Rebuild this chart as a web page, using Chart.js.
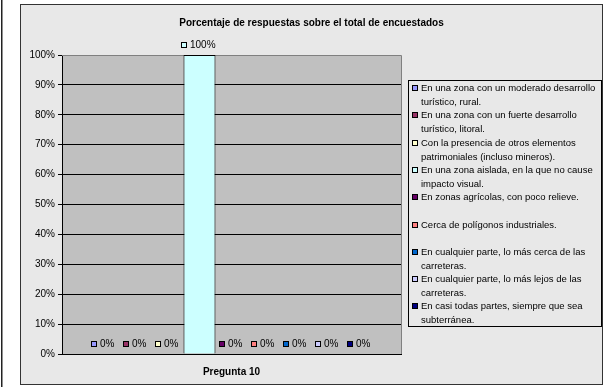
<!DOCTYPE html>
<html>
<head>
<meta charset="utf-8">
<script src="https://cdn.jsdelivr.net/npm/chart.js@4.4.1/dist/chart.umd.min.js"></script>
<style>
  html, body { margin: 0; padding: 0; background: #fff; }
  canvas { display: block; }
</style>
</head>
<body>
<canvas id="chart" width="605" height="387"></canvas>
<script>
// data
const chartTitle = 'Porcentaje de respuestas sobre el total de encuestados';
const categories = ['Pregunta 10'];
const seriesNames = [
    'En una zona con un moderado desarrollo turístico, rural.',
    'En una zona con un fuerte desarrollo turístico, litoral.',
    'Con la presencia de otros elementos patrimoniales (incluso mineros).',
    'En una zona aislada, en la que no cause impacto visual.',
    'En zonas agrícolas, con poco relieve.',
    'Cerca de polígonos industriales.',
    'En cualquier parte, lo más cerca de las carreteras.',
    'En cualquier parte, lo más lejos de las carreteras.',
    'En casi todas partes, siempre que sea subterránea.'
];
const seriesValues = [0, 0, 0, 100, 0, 0, 0, 0, 0];
const yMin = 0, yMax = 100, yStep = 10;

const seriesColors = ['#9999FF', '#993366', '#FFFFCC', '#CCFFFF', '#660066',
                      '#FF8080', '#0066CC', '#CCCCFF', '#000080'];
const FONT = 'Liberation Sans, Arial, sans-serif';

// outer frame, plot background, title
const framePlugin = {
    id: 'frame',
    beforeDraw(chart) {
        const ctx = chart.ctx, a = chart.chartArea;
        ctx.save();
        ctx.fillStyle = '#fff';
        ctx.fillRect(0, 0, chart.width, chart.height);
        ctx.fillStyle = '#222';
        ctx.fillRect(1, 0, 1.5, chart.height);
        ctx.fillStyle = '#e8e8e8';
        ctx.fillRect(20, 5, 583, 379);
        ctx.strokeStyle = '#333';
        ctx.lineWidth = 1;
        ctx.strokeRect(20.5, 4.5, 582, 380);
        ctx.fillStyle = '#c0c0c0';
        ctx.fillRect(a.left, a.top, a.right - a.left, a.bottom - a.top);
        ctx.fillStyle = '#000';
        ctx.font = 'bold 10px ' + FONT;
        ctx.textAlign = 'center';
        ctx.textBaseline = 'middle';
        ctx.fillText(chartTitle, 311.5, 23);
        ctx.restore();
    },
    beforeDatasetsDraw(chart) {
        const ctx = chart.ctx, a = chart.chartArea;
        ctx.save();
        ctx.strokeStyle = '#808080';
        ctx.lineWidth = 1;
        ctx.beginPath();
        ctx.moveTo(a.left, a.top + 0.5);
        ctx.lineTo(a.right + 0.5, a.top + 0.5);
        ctx.lineTo(a.right + 0.5, a.bottom);
        ctx.stroke();
        ctx.restore();
    }
};

// "■ 0%" labels above every bar
const valueLabelPlugin = {
    id: 'valueLabels',
    afterDatasetsDraw(chart) {
        const ctx = chart.ctx;
        ctx.save();
        ctx.font = '10px ' + FONT;
        ctx.textBaseline = 'middle';
        ctx.textAlign = 'left';
        chart.data.datasets.forEach((ds, i) => {
            const bar = chart.getDatasetMeta(i).data[0];
            const txt = ds.data[0] + '%';
            const tw = ctx.measureText(txt).width;
            const x0 = Math.round(bar.x - (6 + 3 + tw) / 2) - 1;
            const yc = Math.round(bar.y - 10);
            ctx.fillStyle = ds.backgroundColor;
            ctx.fillRect(x0, yc - 3, 6, 6);
            ctx.strokeStyle = '#000';
            ctx.lineWidth = 1;
            ctx.strokeRect(x0 + 0.5, yc - 2.5, 5, 5);
            ctx.fillStyle = '#000';
            ctx.fillText(txt, x0 + 9, yc);
        });
        ctx.restore();
    }
};

// boxed legend on the right, wrapped text
const legendPlugin = {
    id: 'boxLegend',
    afterDraw(chart) {
        const ctx = chart.ctx;
        const bx = 408, by = 80, bw = 193, bh = 246;
        ctx.save();
        ctx.fillStyle = '#e8e8e8';
        ctx.fillRect(bx, by, bw, bh);
        ctx.strokeStyle = '#000';
        ctx.lineWidth = 1;
        ctx.strokeRect(bx + 0.5, by + 0.5, bw, bh);
        ctx.font = '9.5px ' + FONT;
        ctx.textBaseline = 'middle';
        ctx.textAlign = 'left';
        const maxW = 180;
        chart.data.datasets.forEach((ds, i) => {
            const words = ds.label.split(' ');
            const lines = [];
            let cur = '';
            words.forEach(w => {
                const t = cur ? cur + ' ' + w : w;
                if (ctx.measureText(t).width > maxW && cur) {
                    lines.push(cur);
                    cur = w;
                } else {
                    cur = t;
                }
            });
            lines.push(cur);
            const top = by + 1 + i * 27.3;
            const y1 = Math.round(top + 7);
            ctx.fillStyle = ds.backgroundColor;
            ctx.fillRect(412, y1 - 3, 6, 6);
            ctx.strokeStyle = '#000';
            ctx.strokeRect(412.5, y1 - 2.5, 5, 5);
            ctx.fillStyle = '#000';
            lines.forEach((ln, k) => {
                ctx.fillText(ln, 421, y1 + k * 14);
            });
        });
        ctx.restore();
    }
};

new Chart(document.getElementById('chart').getContext('2d'), {
    type: 'bar',
    data: {
        labels: categories,
        datasets: seriesNames.map((name, i) => ({
            label: name,
            data: [seriesValues[i]],
            backgroundColor: seriesColors[i],
            borderColor: '#000',
            borderWidth: 1,
            barPercentage: 1.0,
            categoryPercentage: 0.85
        }))
    },
    options: {
        responsive: false,
        animation: false,
        layout: { padding: { left: 20, top: 55, right: 204, bottom: 3 } },
        plugins: {
            legend: { display: false },
            title: { display: false },
            tooltip: { enabled: true }
        },
        scales: {
            x: {
                grid: { display: false, drawTicks: false },
                border: { display: true, color: '#000' },
                ticks: { color: '#000', font: { family: FONT, size: 10, weight: 'bold' }, padding: 12 },
                afterFit: s => { s.height = 30; }
            },
            y: {
                min: yMin,
                max: yMax,
                ticks: {
                    stepSize: yStep,
                    color: '#000',
                    font: { family: FONT, size: 10 },
                    padding: 3,
                    callback: v => v + '%'
                },
                grid: { color: '#000', tickLength: 4, tickColor: '#000' },
                border: { color: '#000' },
                afterFit: s => { s.width = 42; }
            }
        }
    },
    plugins: [framePlugin, valueLabelPlugin, legendPlugin]
});
</script>
</body>
</html>
